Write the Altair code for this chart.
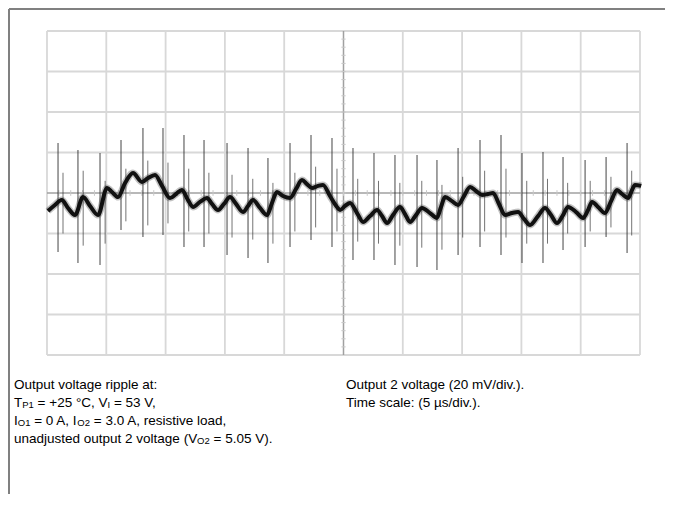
import altair as alt
import pandas as pd

# ---- waveform (time in µs, voltage in mV; 5 µs/div, 20 mV/div) ----
trace_t = [0.08, 0.67, 1.24, 1.77, 2.36, 3.04, 3.63, 4.30, 5.06, 5.48, 5.99, 6.58, 7.25, 8.01,
           8.52, 9.11, 9.70, 10.37, 10.88, 11.38, 11.89, 12.31, 12.90, 13.49, 13.91, 14.42,
           14.92, 15.43, 15.94, 16.53, 16.95, 17.37, 17.96, 18.55, 18.97, 19.39, 19.90, 20.49,
           21.00, 21.50, 21.92, 22.34, 22.85, 23.27, 23.86, 24.45, 24.71, 25.13, 25.55, 26.14,
           26.65, 27.24, 27.83, 28.25, 28.67, 29.17, 29.76, 30.19, 30.61, 31.11, 31.62, 32.29,
           32.88, 33.22, 33.56, 34.15, 34.66, 35.16, 35.67, 36.17, 36.68, 37.19, 37.61, 38.11,
           38.62, 39.21, 39.72, 40.22, 40.73, 41.40, 41.99, 42.50, 43.00, 43.51, 43.93, 44.61,
           45.20, 45.62, 45.96, 46.46, 47.05, 47.56, 48.06, 48.49, 48.99, 49.33, 49.58, 50.1]
trace_mv = [-8.9, -5.9, -3.5, -7.4, -10.9, -2.0, -6.4, -10.9, 2.5, 0.5, -2.0, 4.9, 9.9, 5.4,
            7.4, 8.9, 3.5, -2.5, -0.5, 1.5, -3.5, -6.9, -4.4, -2.5, -5.4, -8.4,
            -5.4, -2.0, -5.4, -9.4, -6.4, -3.5, -7.4, -10.9, -4.9, 0.5, -1.5, -2.5,
            2.0, 6.4, 4.4, 2.5, 3.5, 4.0, -1.5, -6.9, -8.4, -6.4, -4.9, -9.9,
            -14.3, -11.4, -8.4, -11.4, -14.8, -10.9, -6.9, -10.4, -14.3, -10.9, -7.4, -9.9,
            -12.3, -6.9, -2.0, -4.0, -5.9, -1.5, 3.0, 1.0, -1.0, -0.5, 0.0, -5.4,
            -10.9, -9.9, -9.4, -12.8, -15.8, -11.4, -7.4, -10.9, -14.8, -10.9, -6.9, -9.4,
            -12.3, -8.4, -4.4, -6.9, -9.9, -4.0, 1.5, -0.5, -2.5, 1.5, 4.0, 3.5]

# switching spikes
spike_t = [0.93, 2.61, 4.47, 6.24, 8.09, 9.78, 11.55, 13.24, 15.18, 16.95, 18.63, 20.49, 22.26, 24.03,
           25.80, 27.57, 29.34, 31.20, 32.88, 34.66, 36.51, 38.28, 40.05, 41.82, 43.51, 45.37, 47.14, 48.91]
spike_top = [24.7, 21.2, 19.8, 26.2, 32.1, 32.1, 28.6, 26.2, 24.7, 22.2, 17.3, 24.7, 28.6, 27.2,
             22.2, 19.8, 18.8, 18.8, 16.3, 22.2, 26.2, 28.6, 19.8, 20.2, 17.8, 16.3, 17.8, 24.7]
spike_bot = [-29.1, -34.6, -35.6, -18.3, -21.7, -20.7, -26.7, -26.7, -30.6, -32.1, -34.6, -26.7, -23.2, -26.7,
             -33.1, -33.1, -35.6, -36.5, -38.0, -30.6, -26.7, -30.6, -34.6, -34.6, -28.1, -26.7, -21.7, -29.6]
spike2_t = [1.35, 3.05, 4.90, 6.65, 8.50, 10.20, 11.95, 13.65, 15.60, 17.35, 19.05, 20.90, 22.65, 24.45,
            26.20, 27.95, 29.75, 31.60, 33.30, 35.05, 36.90, 38.70, 40.45, 42.20, 43.90, 45.80, 47.55, 49.30]
spike2_top = [10, 11, 6, 12, 16, 15, 12, 10, 9, 7, 5, 10, 13, 12, 7, 6, 5, 6, 4, 8, 11, 12, 6, 7, 5, 6, 8, 11]
spike2_bot = [-20, -26, -25, -14, -16, -15, -19, -20, -22, -23, -25, -19, -17, -19,
              -24, -25, -26, -27, -28, -22, -19, -22, -25, -25, -20, -19, -17, -21]

# graticule
time_div = [0, 5, 10, 15, 20, 30, 35, 40, 45, 50]
volt_div = [-80, -60, -40, -20, 20, 40, 60, 80]
time_center = [25]
volt_center = [0]
minor_t = [i * 1.0 for i in range(1, 50)]
minor_v = [-76 + 4 * i for i in range(39)]

# caption text
left_lines = [
    [("Output voltage ripple at:", "m")],
    [("T", "m"), ("P1", "s"), (" = +25 °C, V", "m"), ("I", "s"), (" = 53 V,", "m")],
    [("I", "m"), ("O1", "s"), (" = 0 A, I", "m"), ("O2", "s"), (" = 3.0 A, resistive load,", "m")],
    [("unadjusted output 2 voltage (V", "m"), ("O2", "s"), (" = 5.05 V).", "m")],
]
right_lines = [
    [("Output 2 voltage (20 mV/div.).", "m")],
    [("Time scale: (5 µs/div.).", "m")],
]

FONT = "Arial, Liberation Sans, sans-serif"
MAIN = 13.5
SUB = 9.5
W = {' ': 278, '+': 584, ',': 278, '-': 333, '.': 278, '/': 278, ':': 278, '=': 584, '(': 333, ')': 333,
     '°': 400, 'A': 667, 'C': 722, 'I': 278, 'O': 778, 'P': 667, 'T': 611, 'V': 667,
     'a': 556, 'b': 556, 'c': 500, 'd': 556, 'e': 556, 'f': 278, 'g': 556, 'h': 556, 'i': 222, 'j': 222,
     'k': 500, 'l': 222, 'm': 833, 'n': 556, 'o': 556, 'p': 556, 'q': 556, 'r': 333, 's': 500, 't': 278,
     'u': 556, 'v': 500, 'w': 722, 'x': 500, 'y': 500, 'z': 500, 'µ': 556}


def tw(s, size):
    return sum(W.get(c, 556) for c in s) * size / 1000.0


PW, PH = 593, 324
xs = alt.Scale(domain=[0, 50], nice=False, zero=False)
ys = alt.Scale(domain=[-80, 80], nice=False, zero=False)

layers = []

grid_df = pd.DataFrame({"t": time_div})
layers.append(alt.Chart(grid_df).mark_rule(color="#d8d8d8", strokeWidth=1.8).encode(
    x=alt.X("t:Q", scale=xs, axis=None)))
vg_df = pd.DataFrame({"v": volt_div})
layers.append(alt.Chart(vg_df).mark_rule(color="#d8d8d8", strokeWidth=1.8).encode(
    y=alt.Y("v:Q", scale=ys, axis=None)))
layers.append(alt.Chart(pd.DataFrame({"t": time_center})).mark_rule(color="#a0a0a0", strokeWidth=1.5).encode(
    x=alt.X("t:Q", scale=xs, axis=None)))
layers.append(alt.Chart(pd.DataFrame({"v": volt_center})).mark_rule(color="#a0a0a0", strokeWidth=1.5).encode(
    y=alt.Y("v:Q", scale=ys, axis=None)))

mt_df = pd.DataFrame({"t": minor_t, "a": [-1.4] * len(minor_t), "b": [1.4] * len(minor_t)})
layers.append(alt.Chart(mt_df).mark_rule(color="#c8c8c8", strokeWidth=1).encode(
    x=alt.X("t:Q", scale=xs, axis=None), y=alt.Y("a:Q", scale=ys, axis=None), y2="b:Q"))
mv_df = pd.DataFrame({"v": minor_v, "a": [24.82] * len(minor_v), "b": [25.18] * len(minor_v)})
layers.append(alt.Chart(mv_df).mark_rule(color="#c8c8c8", strokeWidth=1).encode(
    y=alt.Y("v:Q", scale=ys, axis=None), x=alt.X("a:Q", scale=xs, axis=None), x2="b:Q"))

sp_df = pd.DataFrame({"t": spike_t, "top": spike_top, "bot": spike_bot})
layers.append(alt.Chart(sp_df).mark_rule(color="#2a2a2a", strokeWidth=1.1, opacity=0.8).encode(
    x=alt.X("t:Q", scale=xs, axis=None), y=alt.Y("top:Q", scale=ys, axis=None), y2="bot:Q"))
sp2_df = pd.DataFrame({"t": spike2_t, "top": spike2_top, "bot": spike2_bot})
layers.append(alt.Chart(sp2_df).mark_rule(color="#2a2a2a", strokeWidth=1, opacity=0.65).encode(
    x=alt.X("t:Q", scale=xs, axis=None), y=alt.Y("top:Q", scale=ys, axis=None), y2="bot:Q"))

tr_df = pd.DataFrame({"t": trace_t, "mv": trace_mv})
layers.append(alt.Chart(tr_df).mark_line(color="#333333", strokeWidth=7, opacity=0.3, interpolate="monotone",
                                         strokeJoin="round", clip=False).encode(
    x=alt.X("t:Q", scale=xs, axis=None), y=alt.Y("mv:Q", scale=ys, axis=None)))
layers.append(alt.Chart(tr_df).mark_line(color="#111111", strokeWidth=4, interpolate="monotone",
                                         strokeJoin="round", clip=False).encode(
    x=alt.X("t:Q", scale=xs, axis=None), y=alt.Y("mv:Q", scale=ys, axis=None)))

# page frame lines (gray)
one = pd.DataFrame({"k": [0]})
PAD_L, PAD_T, PAD_R, PAD_B = 39, 23, 25, 139
layers.append(alt.Chart(one).mark_rule(color="#808080", strokeWidth=2).encode(
    x=alt.value(-PAD_L + 1), x2=alt.value(PW + PAD_R), y=alt.value(-PAD_T + 1)))
layers.append(alt.Chart(one).mark_rule(color="#808080", strokeWidth=2).encode(
    x=alt.value(-PAD_L + 1), y=alt.value(-PAD_T + 1), y2=alt.value(PH + PAD_B)))


def add_lines(lines, x0, y0, dy):
    for i, segs in enumerate(lines):
        x = x0
        for txt, kind in segs:
            size = MAIN if kind == "m" else SUB
            yb = y0 + i * dy + (1 if kind == "s" else 0)
            body = txt.lstrip(" ")
            lead = tw(txt[: len(txt) - len(body)], size)
            layers.append(alt.Chart(one).mark_text(
                text=body, font=FONT, fontSize=size, align="left",
                baseline="alphabetic", color="#000000").encode(x=alt.value(x + lead), y=alt.value(yb)))
            x += tw(txt, size)


add_lines(left_lines, 14 - 47, 389 - 31, 18)
add_lines(right_lines, 346 - 47, 389 - 31, 18)

chart = alt.layer(*layers).properties(
    width=PW, height=PH,
    padding={"left": PAD_L, "top": PAD_T, "right": PAD_R, "bottom": PAD_B},
    autosize=alt.AutoSizeParams(type="none"),
    background="white",
).configure_view(stroke=None)

chart.save("out.html", embed_options={"renderer": "svg", "actions": False})
